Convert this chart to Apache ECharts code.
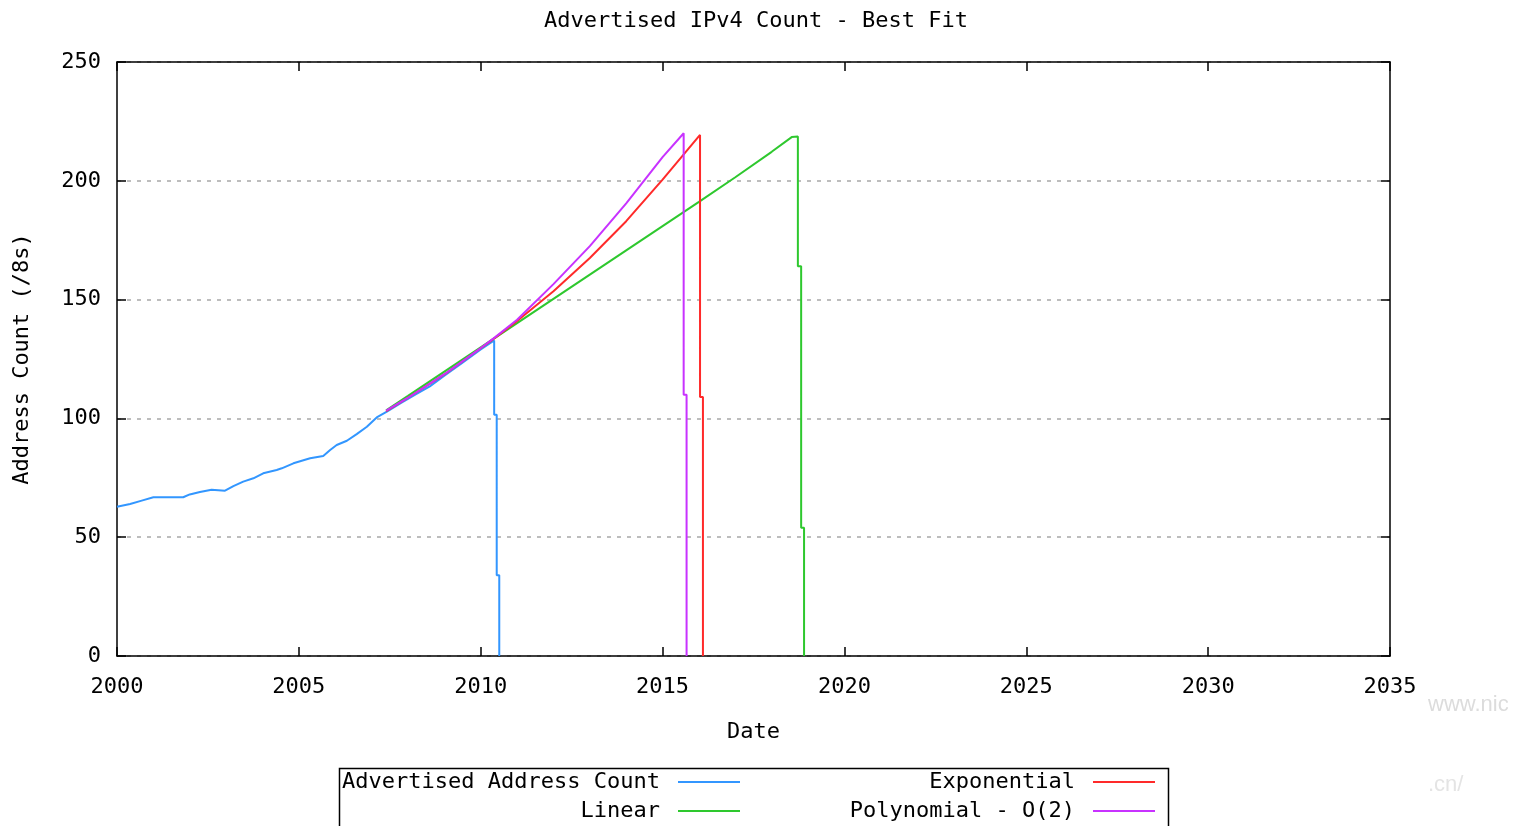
<!DOCTYPE html>
<html>
<head>
<meta charset="utf-8">
<script src="https://cdn.jsdelivr.net/npm/echarts@6.0.0/dist/echarts.min.js"></script>
<style>
body {
  margin: 0px;
  padding: 0px;
  background: #fff;
}
#chart {
  width: 1513px;
  height: 826px;
}
</style>
</head>
<body>
<div id="chart"></div>
<script>
// [year, /8 count]
const advertised = [
  [2000.0, 62.8], [2000.36, 64.0], [2000.68, 65.4], [2001.0, 66.8], [2001.82, 66.8],
  [2002.0, 68.0], [2002.28, 69.0], [2002.6, 70.0], [2002.65, 69.4], [2002.97, 69.6],
  [2003.2, 71.5], [2003.47, 73.4], [2003.75, 74.8], [2004.02, 76.9], [2004.39, 78.3],
  [2004.53, 79.0], [2004.85, 81.1], [2005.31, 83.2], [2005.67, 84.2], [2005.86, 86.7],
  [2006.04, 88.8], [2006.32, 90.6], [2006.59, 93.4], [2006.87, 96.5], [2007.14, 100.4],
  [2007.42, 102.8], [2007.8, 106.4], [2008.2, 110.0], [2008.6, 113.5], [2009.0, 118.0],
  [2009.5, 123.5], [2010.0, 129.0], [2010.37, 132.8],
  [2010.37, 101.5], [2010.44, 101.5], [2010.44, 34.0], [2010.51, 34.0], [2010.51, 0]
];
const linear = [
  [2007.4, 103.4], [2008, 109.5], [2009, 119.7], [2010, 129.9], [2011, 140.1],
  [2012, 150.3], [2013, 160.5], [2014, 170.7], [2015, 180.9], [2016, 191.1],
  [2017, 201.5], [2018, 212.2], [2018.55, 218.4], [2018.72, 218.6],
  [2018.72, 164.0], [2018.81, 164.0], [2018.81, 54.0], [2018.89, 54.0], [2018.89, 0]
];
const exponential = [
  [2007.4, 103.0], [2008, 108.7], [2009, 118.5], [2010, 129.5], [2010.4, 134.0],
  [2011, 141.0], [2012, 153.5], [2013, 167.5], [2014, 183.0], [2015, 200.5],
  [2016.03, 219.3],
  [2016.03, 109.0], [2016.11, 109.0], [2016.11, 0]
];
const polynomial = [
  [2007.4, 103.3], [2008, 108.7], [2009, 118.6], [2010, 129.6], [2010.4, 134.2],
  [2011, 141.5], [2012, 156.5], [2013, 172.5], [2014, 190.5], [2015, 210.0],
  [2015.58, 220.0],
  [2015.58, 110.0], [2015.66, 110.0], [2015.66, 0]
];
const seriesNames = ['Advertised Address Count', 'Linear', 'Exponential', 'Polynomial - O(2)'];
const seriesColors = ['#3296ff', '#2ec82e', '#ff2a2a', '#c832ff'];
const xTicks = { min: 2000, max: 2035, step: 5 };
const yTicks = { min: 0, max: 250, step: 50 };

const font = 'DejaVu Sans Mono';
const txt = { fontFamily: font, fontSize: 22, color: '#000' };
const black = { color: '#000', width: 1.5 };

function legendAt(name, right, top) {
  return {
    data: [name],
    right: right,
    top: top,
    padding: 0,
    align: 'right',
    icon: 'rect',
    itemWidth: 62,
    itemHeight: 2,
    selectedMode: false,
    textStyle: Object.assign({ padding: [0, 13, 0, 0] }, txt)
  };
}

function xAxisAt(pos, withLabels) {
  return {
    type: 'value',
    position: pos,
    min: xTicks.min,
    max: xTicks.max,
    interval: xTicks.step,
    axisLine: { show: true, onZero: false, lineStyle: black },
    axisTick: { show: true, inside: true, length: 9, lineStyle: black },
    axisLabel: {
      show: withLabels,
      margin: 20,
      formatter: v => String(v),
      fontFamily: font, fontSize: 22, color: '#000'
    },
    splitLine: { show: false },
    name: withLabels ? 'Date' : '',
    nameLocation: 'middle',
    nameGap: 65,
    nameTextStyle: txt
  };
}

function yAxisAt(pos, withLabels) {
  return {
    type: 'value',
    position: pos,
    min: yTicks.min,
    max: yTicks.max,
    interval: yTicks.step,
    axisLine: { show: true, onZero: false, lineStyle: black },
    axisTick: { show: true, inside: true, length: 9, lineStyle: black },
    axisLabel: {
      show: withLabels,
      margin: 16,
      formatter: v => String(v),
      fontFamily: font, fontSize: 22, color: '#000'
    },
    splitLine: {
      show: withLabels,
      lineStyle: { color: '#a8a8a8', width: 1.5, type: [4, 6] }
    },
    name: withLabels ? 'Address Count (/8s)' : '',
    nameLocation: 'middle',
    nameGap: 84,
    nameTextStyle: txt
  };
}

const seriesData = [advertised, linear, exponential, polynomial];

const option = {
  animation: false,
  backgroundColor: '#fff',
  title: {
    text: 'Advertised IPv4 Count - Best Fit',
    left: 751,
    textAlign: 'center',
    top: 5,
    textStyle: Object.assign({ fontWeight: 'normal' }, txt)
  },
  grid: { left: 117, right: 123, top: 62, bottom: 170 },
  xAxis: [xAxisAt('bottom', true), xAxisAt('top', false)],
  yAxis: [yAxisAt('left', true), yAxisAt('right', false)],
  legend: [
    legendAt(seriesNames[0], 773, 771),
    legendAt(seriesNames[1], 773, 800),
    legendAt(seriesNames[2], 358, 771),
    legendAt(seriesNames[3], 358, 800)
  ],
  graphic: [
    {
      type: 'rect',
      shape: { x: 339.5, y: 768.5, width: 829, height: 70 },
      style: { fill: 'none', stroke: '#000', lineWidth: 1.5 },
      silent: true
    },
    {
      type: 'text', left: 1428, top: 694, silent: true,
      style: { text: 'www.nic', fill: '#dcdcdc', font: '22px Liberation Sans' }
    },
    {
      type: 'text', left: 1428, top: 774, silent: true,
      style: { text: '.cn/', fill: '#e4e4e4', font: '22px Liberation Sans' }
    }
  ],
  series: seriesData.map((d, i) => ({
    name: seriesNames[i],
    type: 'line',
    data: d,
    showSymbol: false,
    color: seriesColors[i],
    itemStyle: { color: seriesColors[i] },
    lineStyle: { color: seriesColors[i], width: 2 },
    z: 2 + i
  }))
};

const chart = echarts.init(document.getElementById('chart'));
chart.setOption(option);
</script>
</body>
</html>
